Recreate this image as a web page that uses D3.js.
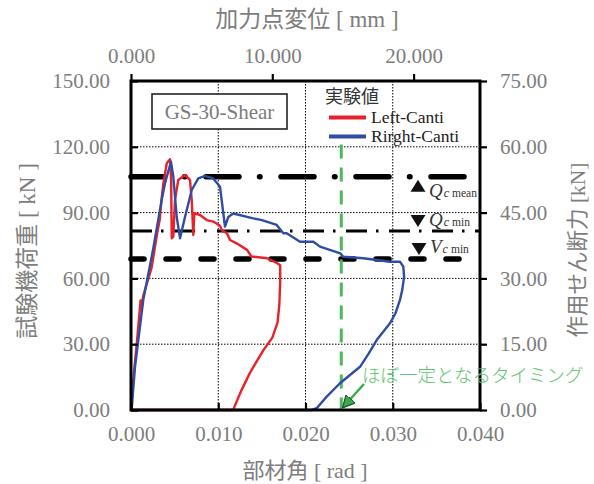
<!DOCTYPE html>
<html><head><meta charset="utf-8">
<script src="https://cdn.jsdelivr.net/npm/d3@7/dist/d3.min.js"></script>
<style>
html,body{margin:0;padding:0;background:#fff;}
svg{display:block;}
</style>
</head><body>
<svg id="c" width="594" height="484"></svg>
<script>
// ---- data ----
const xTicks = [0, 0.01, 0.02, 0.03, 0.04];
const topTicks = [0, 10, 20];
const yLeftTicks = [0, 30, 60, 90, 120, 150];
const yRightTicks = [0, 15, 30, 45, 60, 75];
const seriesNames = ["Left-Canti", "Rirght-Canti"];
const leftCanti = [
 [0,0],[0.00026,13.7],[0.0007,32],[0.0011,50],[0.00115,46],[0.0014,52],[0.00237,65],
 [0.0030,80.6],[0.0033,87],[0.0035,96],[0.0037,103],[0.0041,112.5],[0.00447,114.3],
 [0.0046,105],[0.00467,78.3],[0.00485,79],[0.00504,95.8],[0.00542,104.9],[0.00619,107.2],
 [0.00676,104.9],[0.00696,95.8],[0.00714,79.8],[0.00726,89.7],[0.00791,88.9],[0.00868,86.6],
 [0.00943,85.9],[0.0102,84],[0.0104,82],[0.0110,80.6],[0.01135,77.5],[0.0121,76],
 [0.0133,73],[0.0138,70],[0.0156,69.2],[0.0167,67],[0.0171,66],[0.0171,58],[0.0170,48],
 [0.0168,40],[0.0162,33],[0.0152,27.4],[0.0143,21.5],[0.0136,16.7],[0.0126,8.5],[0.0117,0],[0,0]
];
const rightCanti = [
 [0,0],[0.00008,0.5],[0.00046,19.7],[0.00141,50.2],[0.00252,73],[0.00352,95.8],[0.0039,103.4],
 [0.00458,113.2],[0.00485,106.4],[0.00524,88],[0.00562,78.3],[0.00619,88],[0.00696,100.3],
 [0.00771,105.6],[0.00848,106.7],[0.00943,105.6],[0.0102,101.8],[0.01077,83.6],[0.01115,88],
 [0.01172,89.6],[0.0140,87.4],[0.0150,86.6],[0.0167,84.4],[0.01746,80.6],[0.01784,80.6],
 [0.01937,76.7],[0.0209,76.7],[0.02166,74.5],[0.0240,71.4],[0.02433,69.9],[0.02662,69.2],
 [0.02968,67.6],[0.03083,67.6],[0.03121,65.4],[0.0313,60.8],[0.0311,55],[0.03083,50.2],
 [0.0303,44],[0.02968,39.5],[0.02816,31.9],[0.0272,25.5],[0.02625,19.7],[0.02395,12.2],
 [0.02243,6.1],[0.02128,0.8],[0.0207,0],[0,0]
];
const refLines = {qcMean: 106.3, qcMin: 81.6, vcMin: 68.9};
const timingRad = 0.0241;
const timingTop = 121;

// ---- layout ----
const L = 131, R = 480, T = 81, B = 410;
const svg = d3.select("#c");
const x = d3.scaleLinear().domain([0, 0.04]).range([L, R]);
const xTop = d3.scaleLinear().domain([0, 24.7]).range([L, R]);
const y = d3.scaleLinear().domain([0, 150]).range([B, T]);
const yR = d3.scaleLinear().domain([0, 75]).range([B, T]);
const gray = "#7d7d7d";
const serif = "'Liberation Serif','DejaVu Serif',serif";
const jp = "'Liberation Serif','Noto Sans CJK JP',serif";

// grid
const grid = svg.append("g").attr("stroke", "#000").attr("stroke-width", 1).attr("stroke-dasharray", "1.5,1.5");
[0.01, 0.02, 0.03].forEach(v => grid.append("line").attr("x1", x(v)).attr("x2", x(v)).attr("y1", T).attr("y2", B));
[30, 60, 90, 120].forEach(v => grid.append("line").attr("x1", L).attr("x2", R).attr("y1", y(v)).attr("y2", y(v)));

// reference lines
function hline(v, w, dash, cap) {
  svg.append("line").attr("x1", L).attr("x2", R).attr("y1", y(v)).attr("y2", y(v))
    .attr("stroke", "#000").attr("stroke-width", w).attr("stroke-dasharray", dash)
    .attr("stroke-linecap", cap);
}
hline(refLines.qcMean, 5.5, "33,20.5,0.5,21", "round");
hline(refLines.qcMin, 2.8, "21,9,2.5,10.5", "butt");
hline(refLines.vcMin, 5.5, "13,22", "round");

// green timing line
svg.append("line").attr("x1", x(timingRad)).attr("x2", x(timingRad))
  .attr("y1", y(timingTop)).attr("y2", B)
  .attr("stroke", "#4cb85c").attr("stroke-width", 3).attr("stroke-dasharray", "14,9");

// curves
const line = d3.line().x(d => x(d[0])).y(d => y(d[1]));
svg.append("path").datum(leftCanti).attr("d", line).attr("fill", "none")
  .attr("stroke", "#e8212b").attr("stroke-width", 2.4).attr("stroke-linejoin", "round");
svg.append("path").datum(rightCanti).attr("d", line).attr("fill", "none")
  .attr("stroke", "#2f4ea2").attr("stroke-width", 2.4).attr("stroke-linejoin", "round");

// axes
const fmt3 = d3.format(".3f"), fmt2 = d3.format(".2f");
const axB = svg.append("g").attr("transform", `translate(0,${B})`)
  .call(d3.axisBottom(x).tickValues(xTicks).tickFormat(fmt3).tickSize(-7).tickPadding(16));
const axT = svg.append("g").attr("transform", `translate(0,${T})`)
  .call(d3.axisTop(xTop).tickValues(topTicks).tickFormat(fmt3).tickSize(7).tickPadding(11));
const axL = svg.append("g").attr("transform", `translate(${L},0)`)
  .call(d3.axisLeft(y).tickValues(yLeftTicks).tickFormat(fmt2).tickSize(-7).tickPadding(21));
const axR = svg.append("g").attr("transform", `translate(${R},0)`)
  .call(d3.axisRight(yR).tickValues(yRightTicks).tickFormat(fmt2).tickSize(7).tickPadding(13));
[axB, axT, axL, axR].forEach(a => {
  a.select(".domain").remove();
  a.selectAll(".tick line").attr("stroke", "#000").attr("stroke-width", 2.2);
  a.selectAll(".tick text").attr("fill", gray).attr("font-family", serif).attr("font-size", 21);
});
// spines
svg.append("rect").attr("x", L).attr("y", T).attr("width", R - L).attr("height", B - T)
  .attr("fill", "none").attr("stroke", "#000").attr("stroke-width", 3);

// axis titles
svg.append("text").attr("x", 307).attr("y", 27).attr("text-anchor", "middle")
  .attr("fill", gray).attr("font-family", jp).attr("font-size", 23).text("加力点変位 [ mm ]");
svg.append("text").attr("x", 305).attr("y", 478).attr("text-anchor", "middle")
  .attr("fill", gray).attr("font-family", jp).attr("font-size", 22).text("部材角 [ rad ]");
svg.append("text").attr("transform", "translate(35,251) rotate(-90)").attr("text-anchor", "middle")
  .attr("fill", gray).attr("font-family", jp).attr("font-size", 23).text("試験機荷重 [ kN ]");
svg.append("text").attr("transform", "translate(585,250) rotate(-90)").attr("text-anchor", "middle")
  .attr("fill", gray).attr("font-family", jp).attr("font-size", 21.5).text("作用せん断力 [kN]");

// specimen box
svg.append("rect").attr("x", 152).attr("y", 94).attr("width", 135).attr("height", 35)
  .attr("fill", "#fff").attr("stroke", "#222").attr("stroke-width", 1.6);
svg.append("text").attr("x", 219.5).attr("y", 119).attr("text-anchor", "middle")
  .attr("fill", gray).attr("font-family", serif).attr("font-size", 21).text("GS-30-Shear");

// legend
svg.append("text").attr("x", 325).attr("y", 103).attr("fill", "#333")
  .attr("font-family", "'Noto Sans CJK JP',serif").attr("font-size", 18).text("実験値");
const legColors = ["#e8212b", "#2f4ea2"];
seriesNames.forEach((n, i) => {
  const yy = 117.5 + i * 19;
  svg.append("line").attr("x1", 329).attr("x2", 366).attr("y1", yy).attr("y2", yy)
    .attr("stroke", legColors[i]).attr("stroke-width", 4);
  svg.append("text").attr("x", 371).attr("y", yy + 5.5).attr("fill", "#222")
    .attr("font-family", serif).attr("font-size", 17.5).text(n);
});

// annotations for reference lines
function tri(cx, cy, up) {
  const s = 7.5, h = 12;
  const p = up ? `M${cx},${cy - h/2}L${cx + s},${cy + h/2}L${cx - s},${cy + h/2}Z`
               : `M${cx - s},${cy - h/2}L${cx + s},${cy - h/2}L${cx},${cy + h/2}Z`;
  svg.append("path").attr("d", p).attr("fill", "#111");
}
function label(xx, yy, main, sub1, sub2) {
  const t = svg.append("text").attr("x", xx).attr("y", yy).attr("fill", "#333").attr("font-family", serif);
  t.append("tspan").attr("font-size", 19).attr("font-style", "italic").text(main);
  t.append("tspan").attr("font-size", 12).attr("font-style", "italic").attr("dx", 1).text(sub1);
  t.append("tspan").attr("font-size", 11.5).attr("dx", 3).text(sub2);
}
tri(418, y(refLines.qcMean) + 9, true);
label(429, y(refLines.qcMean) + 20, "Q", "c", "mean");
tri(418, y(refLines.qcMin) - 10, false);
label(429, y(refLines.qcMin) - 5, "Q", "c", "min");
tri(419, y(refLines.vcMin) - 10, false);
label(430, y(refLines.vcMin) - 6, "V", "c", "min");

// green annotation
svg.append("defs").append("marker").attr("id", "ah").attr("viewBox", "0 0 10 10")
  .attr("refX", 9).attr("refY", 5).attr("markerWidth", 5).attr("markerHeight", 5)
  .attr("orient", "auto").append("path").attr("d", "M0,0L10,5L0,10Z")
  .attr("fill", "#3daa4e").attr("stroke", "#1d5a28").attr("stroke-width", 1);
svg.append("line").attr("x1", 364).attr("y1", 384).attr("x2", x(timingRad) + 2).attr("y2", 407)
  .attr("stroke", "#3daa4e").attr("stroke-width", 2.5).attr("marker-end", "url(#ah)");
svg.append("text").attr("x", 362).attr("y", 382).attr("fill", "#5cc46c")
  .attr("font-family", "'Noto Sans CJK JP',sans-serif").attr("font-size", 18.5).attr("font-weight", 300)
  .text("ほぼ一定となるタイミング");
</script>
</body></html>
